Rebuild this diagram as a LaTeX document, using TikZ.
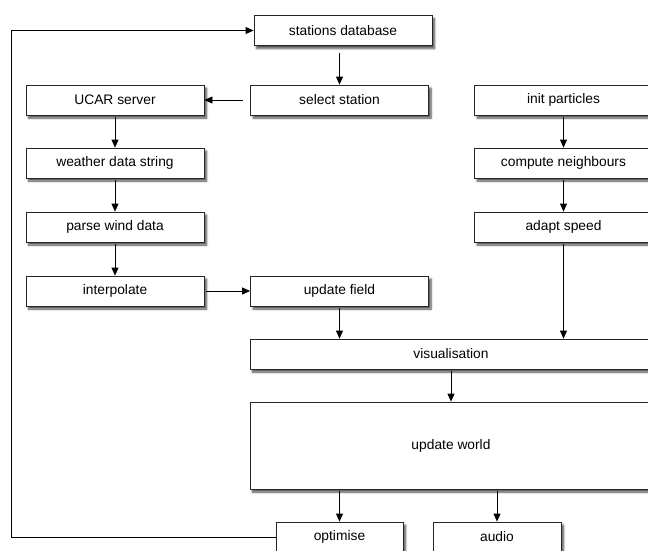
\documentclass[tikz,border=0pt]{standalone}
\usepackage{fontspec}
\setmainfont{Liberation Sans}
\usetikzlibrary{arrows.meta, positioning, shadows.blur}

\begin{document}
\begin{tikzpicture}[
    x=1pt, y=-1pt,
    >={Triangle[length=8pt,width=7pt]},
    box/.style={draw=black!85, fill=white, line width=0.8pt, minimum height=30pt,
        inner sep=0pt, font=\fontsize{13.8}{16}\selectfont,
        blur shadow={shadow xshift=2.5pt, shadow yshift=-3pt, shadow blur steps=6, shadow opacity=70}},
    narrow/.style={box, minimum width=178pt},
    flow/.style={->, line width=0.8pt, shorten <=2pt},
    gap/.style={shorten <=7pt}
]
\useasboundingbox (0,0) rectangle (648,550);

% Wind data branch
\node[narrow] (db) at (343,30.5) {stations database};
\node[narrow] (select) at (339.5,100) {select station};
\node[narrow] (ucar) at (115,100) {UCAR server};
\node[narrow] (weather) at (115,163) {weather data string};
\node[narrow] (parse) at (115,227) {parse wind data};
\node[narrow] (interp) at (115,291) {interpolate};
\node[narrow] (field) at (339.5,291) {update field};

% Particle branch
\node[narrow] (init) at (563.5,100) {init particles};
\node[narrow] (neigh) at (563.5,163) {compute neighbours};
\node[narrow] (adapt) at (563.5,227) {adapt speed};

% Shared stages
\node[box, minimum width=402pt] (vis) at (451,354) {visualisation};
\node[box, minimum width=402pt, minimum height=87pt] (world) at (451,445.5) {update world};
\node[box, minimum width=127pt] (opt) at (339.5,537) {optimise};
\node[box, minimum width=128pt] (audio) at (497,537) {audio};

% Connectors
\draw[flow, gap] (db.south -| select) -- (select);
\draw[flow, gap] (select) -- (ucar);
\draw[flow] (ucar) -- (weather);
\draw[flow] (weather) -- (parse);
\draw[flow] (parse) -- (interp);
\draw[flow] (interp) -- (field);
\draw[flow] (field) -- (field |- vis.north);
\draw[flow] (init) -- (neigh);
\draw[flow] (neigh) -- (adapt);
\draw[flow] (adapt) -- (adapt |- vis.north);
\draw[flow] (vis) -- (world);
\draw[flow] (world.south -| opt) -- (opt);
\draw[flow] (world.south -| audio) -- (audio);

% Feedback loop
\coordinate (back) at (11,30.5);
\draw[flow, shorten <=0pt] (opt.west) -| (back) -- (db.west);

\end{tikzpicture}
\end{document}
